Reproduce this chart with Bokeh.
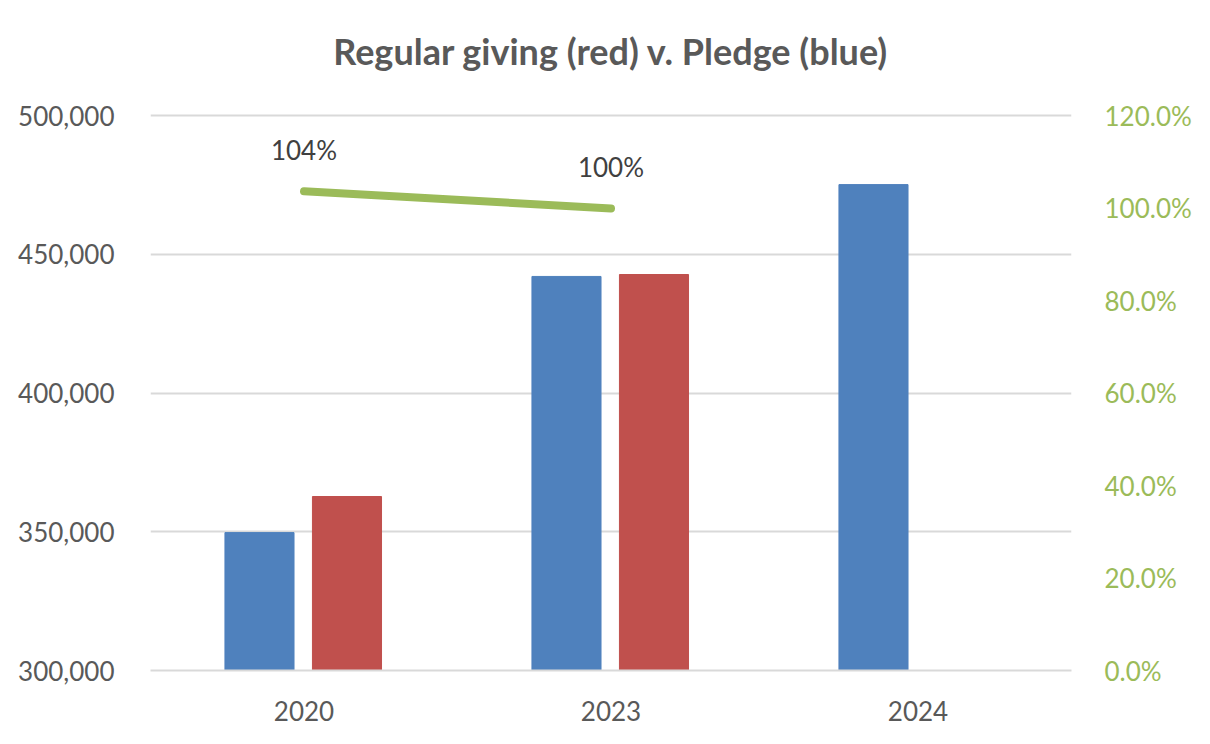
from bokeh.plotting import figure
from bokeh.models import (ColumnDataSource, FactorRange, Range1d, LinearAxis,
                          NumeralTickFormatter, FixedTicker, LabelSet, Label)
from bokeh.core.properties import value
from bokeh.transform import dodge
from bokeh.embed import file_html
from bokeh.resources import INLINE

# ---- data ----
title_text = "Regular giving (red) v. Pledge (blue)"
years = ["2020", "2023", "2024"]
pledge = [349700, 442000, 475100]                 # blue
regular_giving = [362700, 442700, float("nan")]   # red
ratio_years = ["2020", "2023"]
ratio = [1.036, 0.999]                            # regular giving / pledge
left_ticks = [300000, 350000, 400000, 450000, 500000]
right_ticks = [0, 0.2, 0.4, 0.6, 0.8, 1.0, 1.2]

BLUE = "#4F81BD"
RED = "#C0504D"
GREEN = "#9BBB59"
GRAY = "#595959"
FONT = "Lato"

# layout: the axis span (300k..500k) covers 555 px; the frame is extended
# upwards (invisibly) so the title can sit inside it
AXIS_PX = 555
FRAME_PX = 650
TOP = 20
y_end = 300000 + (500000 - 300000) * FRAME_PX / AXIS_PX
pct_end = 1.2 * FRAME_PX / AXIS_PX
title_y = 300000 + (500000 - 300000) * (FRAME_PX - 30) / AXIS_PX

bars = ColumnDataSource(dict(year=years, pledge=pledge, regular=regular_giving))
line_src = ColumnDataSource(dict(year=ratio_years, ratio=ratio,
                                 label=[f"{v:.0%}" for v in ratio]))

p = figure(width=1194, height=728, x_range=FactorRange(*years, range_padding=0),
           y_range=Range1d(300000, y_end), output_backend="svg",
           toolbar_location=None, min_border_left=150, min_border_right=116,
           min_border_top=TOP, min_border_bottom=728 - TOP - FRAME_PX)
p.extra_y_ranges = {"pct": Range1d(0, pct_end)}
p.outline_line_color = None
p.background_fill_color = "white"
p.border_fill_color = "white"

title = Label(x=len(years) / 2, y=title_y, text=title_text,
              text_align="center", text_baseline="middle", text_font=FONT,
              text_font_size="36px", text_font_style="bold", text_color=GRAY)
p.add_layout(title)

p.vbar(x=dodge("year", -0.145, range=p.x_range), top="pledge", bottom=300000,
       width=0.225, color=BLUE, source=bars)
p.vbar(x=dodge("year", 0.14, range=p.x_range), top="regular", bottom=300000,
       width=0.225, color=RED, source=bars)

p.line(x="year", y="ratio", y_range_name="pct", line_color=GREEN, line_width=8,
       line_cap="round", source=line_src)
labels = LabelSet(x="year", y="ratio", text="label", y_range_name="pct", source=line_src,
                  y_offset=25, text_align="center", text_font=value(FONT),
                  text_font_size="26px", text_color="#404040")
p.add_layout(labels)

# left axis
ax = p.yaxis[0]
ax.ticker = FixedTicker(ticks=left_ticks)
ax.formatter = NumeralTickFormatter(format="0,0")
ax.axis_line_color = None
ax.major_tick_line_color = None
ax.minor_tick_line_color = None
ax.major_label_text_font = FONT
ax.major_label_text_font_size = "26px"
ax.major_label_text_color = GRAY
ax.major_label_standoff = 30

# right axis
rax = LinearAxis(y_range_name="pct")
rax.ticker = FixedTicker(ticks=right_ticks)
rax.formatter = NumeralTickFormatter(format="0.0%")
rax.axis_line_color = None
rax.major_tick_line_color = None
rax.minor_tick_line_color = None
rax.major_label_text_font = FONT
rax.major_label_text_font_size = "26px"
rax.major_label_text_color = GREEN
rax.major_label_standoff = 27
p.add_layout(rax, "right")

# x axis
xa = p.xaxis[0]
xa.axis_line_color = "#D9D9D9"
xa.axis_line_width = 2
xa.major_tick_line_color = None
xa.minor_tick_line_color = None
xa.major_label_text_font = FONT
xa.major_label_text_font_size = "26px"
xa.major_label_text_color = GRAY
xa.major_label_standoff = 24

p.xgrid.grid_line_color = None
p.ygrid.grid_line_color = "#D9D9D9"
p.ygrid.grid_line_width = 2

open("out.html", "w").write(file_html(p, INLINE))
